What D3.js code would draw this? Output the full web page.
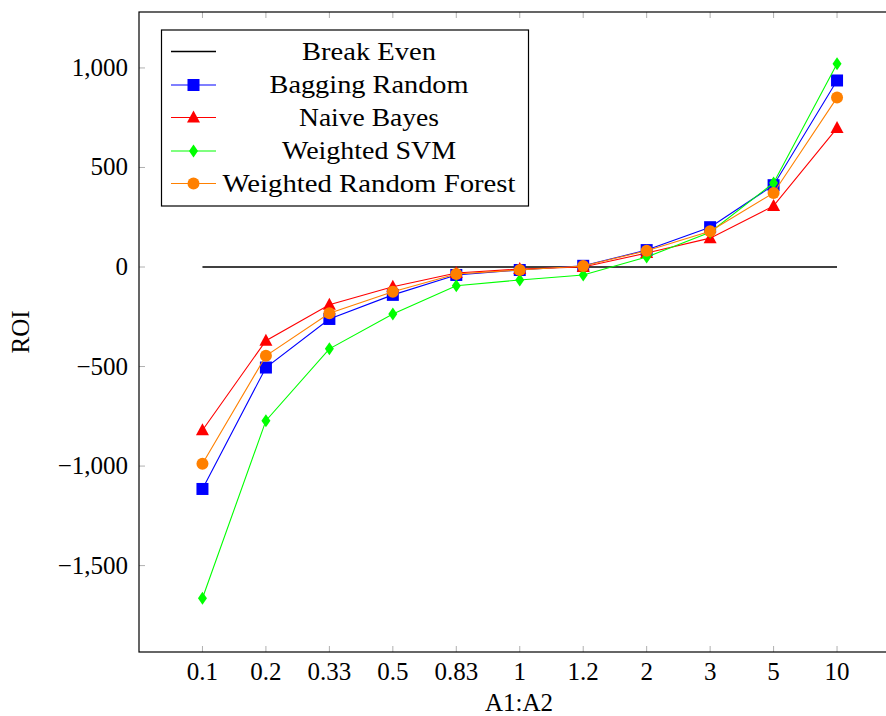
<!DOCTYPE html>
<html><head><meta charset="utf-8">
<script src="https://cdn.jsdelivr.net/npm/d3@7/dist/d3.min.js"></script>
<style>body{margin:0;background:#fff}svg{display:block}text{font-family:"Liberation Serif","DejaVu Serif",serif;fill:#000}</style>
</head><body>
<script>
const categories = ["0.1","0.2","0.33","0.5","0.83","1","1.2","2","3","5","10"];
const breakEven = [0,0,0,0,0,0,0,0,0,0,0];
const bagging = [-1115,-505,-261,-140,-40,-15,6,85,200,411,937];
const naiveBayes = [-820,-370,-190,-99,-30,-10,0,70,145,307,698];
const weightedSVM = [-1664,-772,-411,-236,-94,-65,-40,50,175,422,1021];
const weightedRF = [-988,-446,-232,-124,-35,-15,5,82,180,372,851];
const yTicks = [-1500,-1000,-500,0,500,1000];
const seriesNames = ["Break Even","Bagging Random","Naive Bayes","Weighted SVM","Weighted Random Forest"];

(function(){
const W=886,H=716;
const svg=d3.select("body").append("svg").attr("width",W).attr("height",H);
const pL=139,pR=900.5,pT=12,pB=652;
const x=d3.scaleLinear().domain([-1,11]).range([pL,pR]);
const y=d3.scaleLinear().domain([-1934,1281]).range([pB,pT]);
const idx=categories.map((c,i)=>i);
const FS=25;

const tickCol="#b0b0b0";
const gx=svg.append("g");
idx.forEach(i=>{
  gx.append("line").attr("x1",x(i)).attr("x2",x(i)).attr("y1",pB).attr("y2",pB-6).attr("stroke",tickCol).attr("stroke-width",1);
  gx.append("line").attr("x1",x(i)).attr("x2",x(i)).attr("y1",pT).attr("y2",pT+6).attr("stroke",tickCol).attr("stroke-width",1);
  gx.append("text").attr("x",x(i)).attr("y",680).attr("text-anchor","middle").attr("font-size",FS).text(categories[i]);
});
const fmt=d3.format(",");
yTicks.forEach(v=>{
  svg.append("line").attr("x1",pL).attr("x2",pL+6).attr("y1",y(v)).attr("y2",y(v)).attr("stroke",tickCol);
  svg.append("text").attr("x",128).attr("y",y(v)+8).attr("text-anchor","end").attr("font-size",FS)
    .text(fmt(v).replace("-","\u2212"));
});
svg.append("rect").attr("x",pL).attr("y",pT).attr("width",pR-pL).attr("height",pB-pT)
  .attr("fill","none").attr("stroke","#000").attr("stroke-width",1.2);

svg.append("text").attr("x",519).attr("y",711).attr("text-anchor","middle").attr("font-size",FS).text("A1:A2");
svg.append("text").attr("transform","translate(29,332) rotate(-90)").attr("text-anchor","middle").attr("font-size",FS).text("ROI");

const series=[
 {name:seriesNames[0],vals:breakEven,color:"#000",marker:null,w:1.4},
 {name:seriesNames[1],vals:bagging,color:"#0000ff",marker:"square",w:1.1},
 {name:seriesNames[2],vals:naiveBayes,color:"#ff0000",marker:"triangle",w:1.1},
 {name:seriesNames[3],vals:weightedSVM,color:"#00ff00",marker:"diamond",w:1.1},
 {name:seriesNames[4],vals:weightedRF,color:"#ff8000",marker:"circle",w:1.1}
];
function drawMarker(g,type,cx,cy,color){
  if(type==="square") g.append("rect").attr("x",cx-6).attr("y",cy-6).attr("width",12).attr("height",12).attr("fill",color);
  else if(type==="circle") g.append("circle").attr("cx",cx).attr("cy",cy).attr("r",6).attr("fill",color);
  else if(type==="triangle") g.append("path").attr("d",`M${cx},${cy-7}L${cx+6.5},${cy+5}L${cx-6.5},${cy+5}Z`).attr("fill",color);
  else if(type==="diamond") g.append("path").attr("d",`M${cx},${cy-6.5}L${cx+4.5},${cy}L${cx},${cy+6.5}L${cx-4.5},${cy}Z`).attr("fill",color);
}
const line=d3.line().x((d,i)=>x(i)).y(d=>y(d));
series.forEach(s=>{
  const g=svg.append("g");
  g.append("path").datum(s.vals).attr("d",line).attr("fill","none").attr("stroke",s.color).attr("stroke-width",s.w);
  if(s.marker) s.vals.forEach((v,i)=>drawMarker(g,s.marker,x(i),y(v),s.color));
});

const lg=svg.append("g");
lg.append("rect").attr("x",161.5).attr("y",30).attr("width",367).attr("height",176).attr("fill","#fff").attr("stroke","#000").attr("stroke-width",1.2);
const rows=[51.5,85,117.5,151,183.5];
const widths=[134,199,140,174,293];
series.forEach((s,k)=>{
  const yy=rows[k];
  lg.append("line").attr("x1",171).attr("x2",216).attr("y1",yy).attr("y2",yy).attr("stroke",s.color).attr("stroke-width",s.w);
  if(s.marker) drawMarker(lg,s.marker,193.5,yy,s.color);
  lg.append("text").attr("x",369).attr("y",yy+8).attr("text-anchor","middle").attr("font-size",FS)
    .attr("textLength",widths[k]).attr("lengthAdjust","spacingAndGlyphs").text(s.name);
});
})();
</script>
</body></html>
